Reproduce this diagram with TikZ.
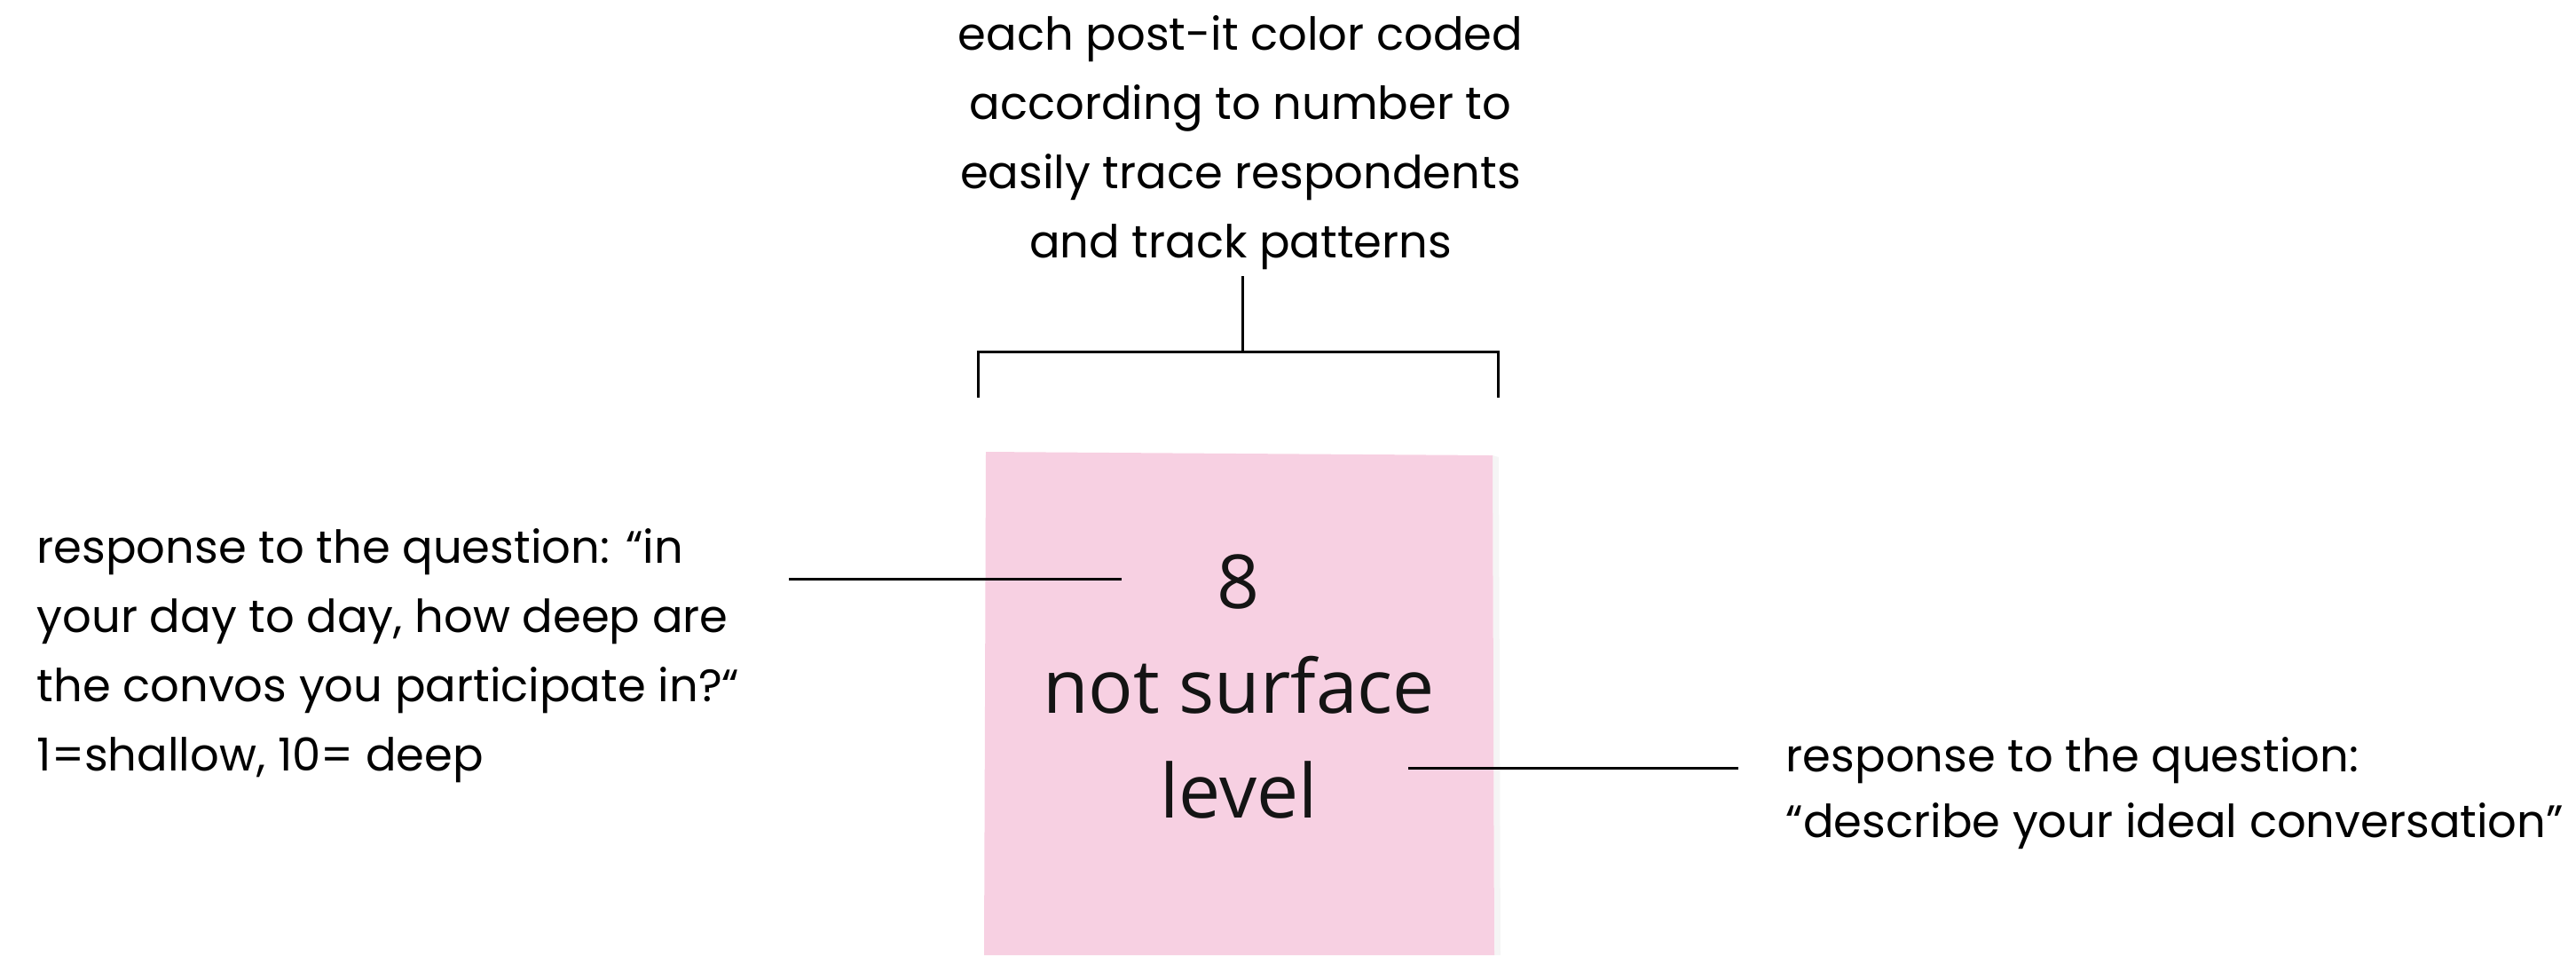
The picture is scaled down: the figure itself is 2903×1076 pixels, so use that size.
\documentclass[tikz,border=0pt]{standalone}
\usepackage{fontspec}
\setmainfont{Poppins}
\newfontfamily\notefont{Open Sans}
\usetikzlibrary{positioning}

\definecolor{postitpink}{RGB}{247,208,226}

\begin{document}
\begin{tikzpicture}
		[x=0.25pt, y=-0.25pt,
			caption/.style={font=\fontsize{12.8}{19.5}\selectfont, inner sep=0pt},
			leader/.style={line width=0.75pt, black},
			notetext/.style={font=\notefont\fontsize{21}{29.5}\selectfont, text=black!92, inner sep=0pt, align=center}]
		\useasboundingbox (0,0) rectangle (2903,1076);
		% draw the post-it
		\fill[black!4] (1682,513) -- (1689,515) -- (1691,1076) -- (1684,1076) -- cycle;
		\fill[postitpink] (1111,509) -- (1682,513) -- (1684,1076) -- (1109,1076) -- cycle;
		\node[notetext, anchor=north] (note) at (1396,624) {8\\not surface\\level};
		% captions
		\node[caption, anchor=north, align=center] (toptext) at (1398,17)
			{each post-it color coded\\according to number to\\easily trace respondents\\and track patterns};
		\node[caption, anchor=north west, align=left] (lefttext) at (41,595)
			{response to the question: “in\\your day to day, how deep are\\the convos you participate in?“\\1=shallow, 10= deep};
		\node[caption, anchor=north west, align=left, font=\fontsize{12.8}{18.5}\selectfont] (righttext) at (2012,830)
			{response to the question:\\“describe your ideal conversation”};
		% define the bracket's points
		\coordinate (stemtop) at (1400,311);
		\coordinate (stembot) at (1400,396);
		\coordinate (legl) at (1102,448);
		\coordinate (legr) at (1688,448);
		% define the leader lines
		\coordinate (ll0) at (889,652);
		\coordinate (ll1) at (1264,652);
		\coordinate (rl0) at (1587,865);
		\coordinate (rl1) at (1959,865);
		% draw the bracket
		\draw[leader] (stemtop) to (stembot);
		\draw[leader] (legl) |- (stembot) -| (legr);
		% draw the leader lines
		\draw[leader] (ll0) to (ll1);
		\draw[leader] (rl0) to (rl1);
	\end{tikzpicture}
\end{document}
